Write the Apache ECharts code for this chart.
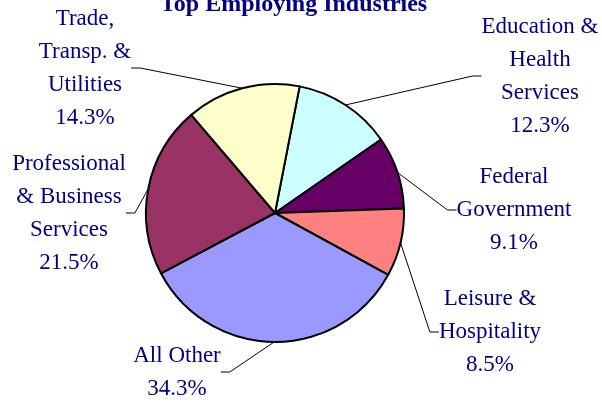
<!DOCTYPE html>
<html>
<head>
<meta charset="utf-8">
<script src="https://cdn.jsdelivr.net/npm/echarts@6/dist/echarts.min.js"></script>
<style>
    html, body { margin: 0; padding: 0; background: #fff; }
    #pie { width: 602px; height: 402px; }
</style>
</head>
<body>
<div id="pie"></div>
<script>
// slices, clockwise from just right of 12 o'clock
var industries = ['Education &\nHealth\nServices', 'Federal\nGovernment', 'Leisure &\nHospitality', 'All Other', 'Professional\n& Business\nServices', 'Trade,\nTransp. &\nUtilities']
var shares = [12.3, 9.1, 8.5, 34.3, 21.5, 14.3]
var sliceColors = ['#ccffff', '#660066', '#ff8080', '#9999ff', '#993366', '#ffffcc']

// where each label block is centred
var labelPos = [[540, 76], [514, 210], [490, 332], [177, 372], [69, 213], [85, 68]]

var chart = echarts.init(document.getElementById('pie'))
var data = []
for (var i = 0; i < industries.length; i++) {
    data.push({ name: industries[i], value: shares[i], itemStyle: { color: sliceColors[i] } })
}

var option = {
    animation: false,
    backgroundColor: '#fff',
    title: {
        text: 'Top Employing Industries',
        left: 160,
        top: -7,
        padding: 0,
        textStyle: {
            fontFamily: 'Liberation Serif',
            fontSize: 24,
            fontWeight: 'bold',
            color: '#000080'
        }
    },
    series: [{
        type: 'pie',
        center: [275, 213],
        radius: 129,
        startAngle: 79,
        clockwise: true,
        avoidLabelOverlap: false,
        itemStyle: {
            borderColor: '#000',
            borderWidth: 2
        },
        label: {
            show: true,
            position: 'outside',
            fontFamily: 'Liberation Serif',
            fontSize: 23,
            lineHeight: 33,
            color: '#000080',
            formatter: function (p) {
                return p.name + '\n' + p.value.toFixed(1) + '%'
            }
        },
        labelLine: {
            show: true,
            length: 10,
            length2: 9,
            lineStyle: { color: '#000', width: 1 }
        },
        labelLayout: function (params) {
            var p = labelPos[params.dataIndex]
            return { x: p[0], y: p[1], align: 'center', verticalAlign: 'middle' }
        },
        data: data
    }]
}
chart.setOption(option)
</script>
</body>
</html>
